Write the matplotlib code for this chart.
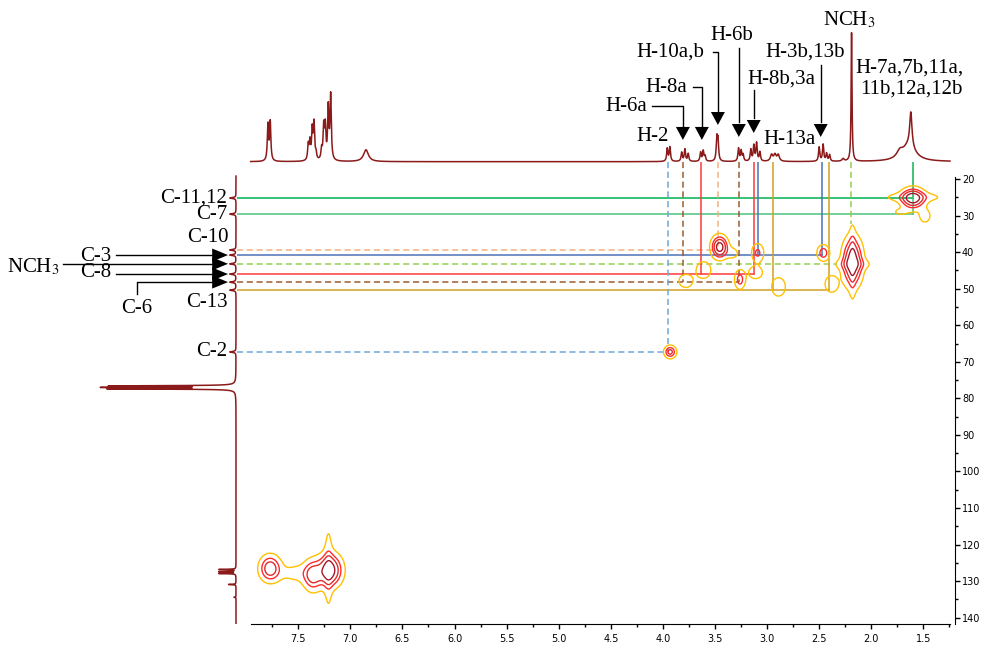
import numpy as np
import matplotlib.pyplot as plt
from matplotlib.ticker import FixedLocator, FormatStrFormatter

plt.rcParams['font.family'] = ['Liberation Serif', 'DejaVu Serif']
plt.rcParams['mathtext.fontset'] = 'stix'

# 1H projection: peak position (ppm), height, half width
h1_pos = [7.791, 7.769, 7.404, 7.388, 7.366, 7.349, 7.330, 7.276, 7.256, 7.241, 7.212, 7.189, 6.850,
          3.958, 3.933, 3.820, 3.789, 3.757, 3.638, 3.613, 3.595, 3.482, 3.471,
          3.274, 3.249, 3.230, 3.156, 3.127, 3.101, 3.069, 2.957, 2.925, 2.893,
          2.500, 2.462, 2.429, 2.400, 2.270, 2.189, 1.726, 1.620, 1.640]
h1_amp = [28, 30, 12, 14, 23, 28, 5, 8, 25, 25, 40, 50, 9.2,
          10, 11, 7, 9.5, 6, 7, 8, 4, 17, 15,
          10, 8, 5, 9, 12, 14, 7, 5, 5, 5,
          11, 13, 6, 5, 2, 100, 5, 27, 12]
h1_hw = [0.007] * 12 + [0.028] + [0.007] * 10 + [0.007] * 7 + [0.013] * 3 + \
        [0.007] * 4 + [0.012, 0.005, 0.035, 0.013, 0.075]

# 13C projection
c13_pos = [25.2, 29.6, 39.4, 40.8, 43.2, 46.0, 48.2, 50.4, 67.3,
           76.6, 77.0, 77.4, 126.8, 127.4, 127.9, 130.9, 134.4]
c13_amp = [5, 5, 5, 5, 5, 5, 5, 5, 5, 97, 100, 98, 13.6, 13.6, 13.6, 6, 1.6]
c13_hw = [0.15] * 9 + [0.09] * 3 + [0.07] * 5

# HSQC cross peaks: 1H ppm, 13C ppm, intensity, widths
xp_h = [1.60, 1.60, 1.72, 1.485, 3.455, 3.33, 3.09, 2.46, 2.18, 2.18, 2.18,
        3.61, 3.78, 3.26, 3.11, 2.89, 2.38, 3.93,
        7.77, 7.50, 7.36, 7.20, 7.21]
xp_c = [25.3, 25.0, 29.0, 30.1, 38.6, 40.3, 40.2, 40.2, 42.7, 43.3, 42.7,
        44.9, 47.9, 47.5, 45.6, 49.5, 48.7, 67.3,
        126.5, 127.8, 128.4, 127.0, 126.5]
xp_amp = [1.0, 0.2, 0.12, 0.16, 1.0, 0.15, 0.35, 0.45, 1.0, 0.2, 0.2,
          0.22, 0.2, 0.4, 0.2, 0.22, 0.22, 0.6,
          0.7, 0.16, 0.6, 1.0, 0.2]
xp_sh = [0.065, 0.2, 0.07, 0.05, 0.045, 0.05, 0.037, 0.036, 0.056, 0.12, 0.02,
         0.055, 0.055, 0.032, 0.055, 0.052, 0.05, 0.034,
         0.06, 0.15, 0.055, 0.07, 0.028]
xp_sc = [1.6, 0.9, 0.9, 1.7, 1.75, 1.3, 1.6, 1.3, 3.8, 1.0, 7.0,
         1.8, 1.5, 1.6, 1.4, 2.0, 1.8, 1.0,
         2.1, 1.8, 2.5, 2.6, 8.0]

# assignment guides: carbon shift, attached proton shifts
guide_c = [25.2, 29.6, 39.4, 40.8, 43.2, 46.0, 48.2, 50.4, 67.3]
guide_h = [[1.60], [1.60], [3.47], [3.09, 2.475], [2.19], [3.63, 3.13], [3.81, 3.27], [2.94, 2.41], [3.95]]
guide_col = ['#00b050', '#4cc47e', '#f4b183', '#4a72b8', '#92d050', '#ff3b3b', '#9c5b2c', '#d0a020', '#6fa8dc']
guide_ls = ['-', '-', '--', '-', '--', '-', '--', '-', '--']
# NCH3 guides stop at the edge of its cross peak
guide_stop = {4: (2.33, 32.3)}

W, H = 982, 649
xl = (8.088, 1.196)
yl = (141.58, 15.35)
spec_col = '#8b1a1a'

fig = plt.figure(figsize=(W / 100, H / 100), dpi=100)

ax = fig.add_axes([237 / W, 25.5 / H, 718 / W, 461.5 / H])
ax_top = fig.add_axes([237 / W, 479 / H, 718 / W, 170 / H])
ax_left = fig.add_axes([0, 25.5 / H, 237 / W, 461.5 / H])
for a in (ax, ax_top, ax_left):
    a.patch.set_alpha(0)

# 2D map
gh = np.linspace(1.2, 8.1, 1400)
gc = np.linspace(15, 142, 700)
GH, GC = np.meshgrid(gh, gc)
Z = np.zeros_like(GH)
for h, c, a, sh, sc in zip(xp_h, xp_c, xp_amp, xp_sh, xp_sc):
    Z += a * np.exp(-0.5 * (((GH - h) / sh) ** 2 + ((GC - c) / sc) ** 2))

for i, (c, hs, col, ls) in enumerate(zip(guide_c, guide_h, guide_col, guide_ls)):
    kw = dict(color=col, lw=1.1, zorder=1)
    if ls == '--':
        kw['dashes'] = (4, 2.4)
    h_end, c_end = guide_stop.get(i, (min(hs), c))
    ax.plot([xl[0], h_end], [c, c], **kw)
    for hv in hs:
        ax.plot([hv, hv], [yl[1], c_end], **kw)

ax.contour(GH, GC, Z, levels=[0.1, 0.3, 0.5, 0.8],
           colors=['#ffc000', '#ff2b2b', '#e02a2a', '#a3162a'], linewidths=1.0, zorder=2)

ax.set_xlim(*xl)
ax.set_ylim(*yl)
for s in ('left', 'top'):
    ax.spines[s].set_visible(False)
ax.spines['bottom'].set_bounds(7.957, 1.244)
ax.spines['right'].set_bounds(19.5, 141.58)
ax.xaxis.set_major_locator(FixedLocator(np.arange(1.5, 7.51, 0.5)))
ax.xaxis.set_minor_locator(FixedLocator(np.arange(1.25, 7.8, 0.5)))
ax.xaxis.set_major_formatter(FormatStrFormatter('%.1f'))
ax.yaxis.tick_right()
ax.yaxis.set_major_locator(FixedLocator(np.arange(20, 141, 10)))
ax.yaxis.set_minor_locator(FixedLocator(np.arange(25, 140, 10)))
ax.tick_params(axis='both', which='major', length=3.5, width=1, labelsize=7)
ax.tick_params(axis='x', which='major', pad=4)
ax.tick_params(axis='y', which='major', pad=1.5)
ax.tick_params(axis='both', which='minor', length=2.5, width=1)
for lab in ax.get_xticklabels() + ax.get_yticklabels():
    lab.set_family('DejaVu Sans')

# 1H projection
sx = np.linspace(7.957, 1.244, 9000)
sy = np.zeros_like(sx)
for p, a, w in zip(h1_pos, h1_amp, h1_hw):
    sy += a / (1 + ((sx - p) / w) ** 2)
ax_top.plot(sx, sy, color=spec_col, lw=1.1)
ax_top.set_xlim(*xl)
ax_top.set_ylim(-6.45, 125.6)
ax_top.axis('off')

# 13C projection
cy = np.linspace(19.2, 141.5, 12000)
cx = np.zeros_like(cy)
for p, a, w in zip(c13_pos, c13_amp, c13_hw):
    cx += a / (1 + ((cy - p) / w) ** 2)
ax_left.plot(cx, cy, color=spec_col, lw=1.1)
ax_left.set_xlim(190.1, -0.8)
ax_left.set_ylim(*yl)
ax_left.axis('off')

fs = 15


def head_down(a, x, tip, w=0.067, h=10.1):
    a.fill([x - w, x + w, x], [tip + h, tip + h, tip], color='black', lw=0, zorder=5)


def head_right(a, y, tip, hw=1.78, l=12.8):
    a.fill([tip + l, tip + l, tip], [y - hw, y + hw, y], color='black', lw=0, zorder=5)


# proton labels
ax_top.text(4.096, 19.9, 'H-2', fontsize=fs, ha='center', va='center')
ax_top.text(2.783, 16.9, 'H-13a', fontsize=fs, ha='center', va='center')
ax_top.text(2.207, 110.1, 'NCH$_3$', fontsize=fs, ha='center', va='center')
ax_top.text(1.630, 72.8, 'H-7a,7b,11a,', fontsize=fs, ha='center', va='center')
ax_top.text(1.611, 56.4, '11b,12a,12b', fontsize=fs, ha='center', va='center')

elbow = [('H-6a', 4.355, 43.2, 4.107, 3.808, 27.0, 16.9),
         ('H-8a', 3.971, 58.0, 3.713, 3.626, 27.0, 16.9),
         ('H-10a,b', 3.933, 85.2, 3.521, 3.472, 38.6, 28.5)]
for txt, tx, ty, x0, xa, base, tip in elbow:
    ax_top.text(tx, ty, txt, fontsize=fs, ha='center', va='center')
    ax_top.plot([x0, xa, xa], [ty, ty, base], color='black', lw=1.0)
    head_down(ax_top, xa, tip)

straight = [('H-6b', 3.338, 98.4, 3.271, 88.3, 30.8, 19.2),
            ('H-8b,3a', 2.858, 64.3, 3.128, 55.7, 34.0, 22.3),
            ('H-3b,13b', 2.630, 85.2, 2.485, 75.1, 30.8, 19.2)]
for txt, tx, ty, xa, y0, base, tip in straight:
    ax_top.text(tx, ty, txt, fontsize=fs, ha='center', va='center')
    ax_top.plot([xa, xa], [y0, base], color='black', lw=1.0)
    head_down(ax_top, xa, tip)

# carbon labels
ax_left.text(7.2, 25.2, 'C-11,12', fontsize=fs, ha='right', va='center')
ax_left.text(7.2, 29.6, 'C-7', fontsize=fs, ha='right', va='center')
ax_left.text(7.2, 67.3, 'C-2', fontsize=fs, ha='right', va='center')
ax_left.text(22.5, 35.9, 'C-10', fontsize=fs, ha='center', va='center')
ax_left.text(23.3, 53.9, 'C-13', fontsize=fs, ha='center', va='center')
ax_left.text(113, 41.1, 'C-3', fontsize=fs, ha='center', va='center')
ax_left.text(113, 45.7, 'C-8', fontsize=fs, ha='center', va='center')
ax_left.text(163.6, 44.1, 'NCH$_3$', fontsize=fs, ha='center', va='center')
ax_left.text(80.2, 55.3, 'C-6', fontsize=fs, ha='center', va='center')

tip_x = 6.4
for y, x0 in [(40.8, 97), (43.2, 139.5), (46.0, 97)]:
    ax_left.plot([x0, tip_x + 12.8], [y, y], color='black', lw=1.0)
    head_right(ax_left, y, tip_x)
ax_left.plot([79.4, 79.4, tip_x + 12.8], [51.5, 48.2, 48.2], color='black', lw=1.0)
head_right(ax_left, 48.2, tip_x)

fig.savefig('out.png', dpi=100)
